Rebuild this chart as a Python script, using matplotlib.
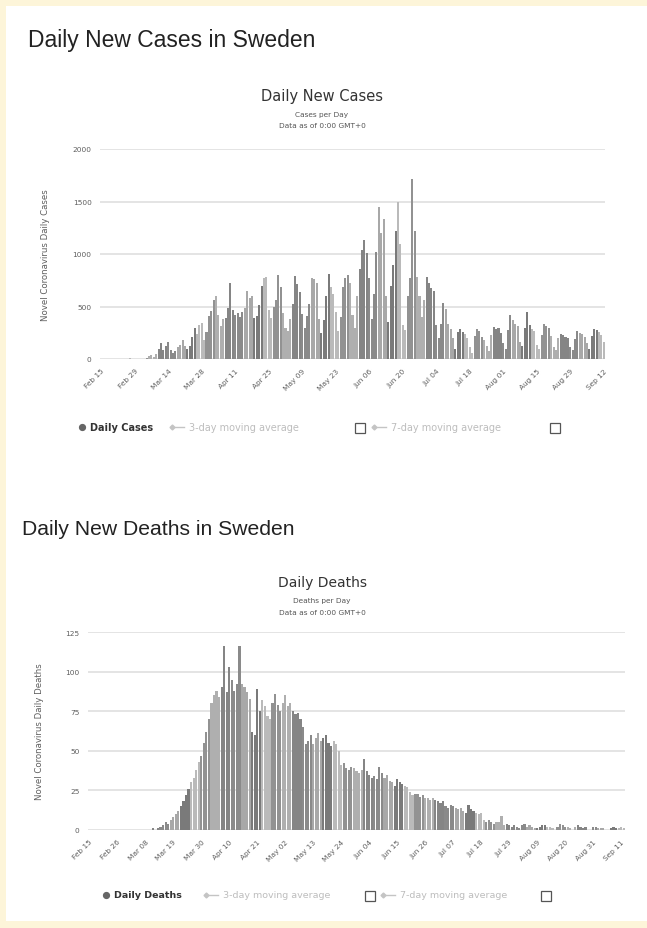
import matplotlib.pyplot as plt
import numpy as np
from matplotlib.patches import Rectangle
from matplotlib.lines import Line2D

W, H = 647, 929

# Daily cases, Feb 15 .. Sep 12 (one row per week, Sat..Fri)
cases = [
    0, 0, 0, 0, 0, 0, 0,
    0, 0, 0, 0, 1, 5, 1,
    0, 1, 1, 1, 0, 10, 25,
    40, 20, 45, 100, 155, 90, 120,
    160, 85, 60, 80, 115, 135, 180,
    125, 95, 125, 210, 300, 240, 320,
    345, 180, 260, 410, 460, 560, 600,
    420, 310, 380, 390, 490, 720, 470,
    420, 440, 400, 450, 490, 650, 580,
    600, 390, 410, 510, 700, 770, 780,
    470, 390, 500, 560, 800, 690, 440,
    300, 270, 380, 520, 790, 710, 640,
    430, 300, 410, 520, 770, 760, 720,
    380, 250, 370, 600, 810, 690, 620,
    450, 270, 400, 690, 770, 800, 720,
    420, 300, 600, 860, 1040, 1130, 1010,
    770, 380, 620, 1020, 1450, 1200, 1330,
    600, 350, 700, 900, 1220, 1500, 1100,
    320, 280, 600, 770, 1710, 1215, 780,
    600, 400, 560, 785, 720, 680, 650,
    320, 200, 330, 530, 480, 335, 290,
    200, 100, 255, 290, 260, 240, 200,
    110, 60, 220, 290, 270, 210, 180,
    120, 80, 230, 305, 290, 300, 250,
    150, 100, 280, 415, 370, 330, 310,
    160, 120, 300, 450, 320, 290, 270,
    130, 100, 230, 335, 310, 300, 220,
    110, 90, 200, 240, 230, 210, 200,
    110, 90, 190, 270, 250, 240, 210,
    150, 100, 220, 290, 280, 260, 230,
    160,
]

# Daily deaths, Feb 15 .. Sep 12
deaths = [
    0, 0, 0, 0, 0, 0, 0,
    0, 0, 0, 0, 0, 0, 0,
    0, 0, 0, 0, 0, 0, 0,
    0, 0, 0, 0, 1, 0, 1,
    2, 3, 5, 4, 6, 8, 10,
    12, 15, 18, 22, 26, 30, 33,
    38, 43, 47, 55, 62, 70, 80,
    85, 88, 84, 90, 116, 87, 103,
    95, 88, 92, 116, 92, 90, 87,
    83, 62, 60, 89, 75, 82, 78,
    72, 70, 80, 86, 79, 75, 80,
    85, 78, 80, 75, 73, 74, 70,
    65, 54, 56, 60, 54, 58, 61,
    56, 58, 60, 55, 53, 56, 54,
    50, 41, 42, 39, 38, 40, 39,
    37, 36, 38, 45, 37, 35, 33,
    34, 32, 40, 36, 33, 35, 31,
    30, 28, 32, 30, 29, 28, 27,
    24, 22, 23, 23, 21, 22, 20,
    20, 19, 20, 19, 18, 17, 18,
    15, 14, 16, 15, 14, 13, 14,
    12, 11, 16, 13, 12, 11, 10,
    11, 6, 5, 6, 5, 4, 5,
    5, 9, 3, 4, 3, 2, 3,
    2, 1, 3, 4, 2, 3, 2,
    1, 1, 2, 3, 3, 2, 2,
    1, 0, 2, 4, 3, 2, 2,
    1, 0, 2, 3, 2, 1, 2,
    0, 0, 2, 2, 1, 1, 1,
    0, 0, 1, 2, 1, 1, 2,
    1,
]

case_tick_labels = ["Feb 15", "Feb 29", "Mar 14", "Mar 28", "Apr 11", "Apr 25",
                    "May 09", "May 23", "Jun 06", "Jun 20", "Jul 04", "Jul 18",
                    "Aug 01", "Aug 15", "Aug 29", "Sep 12"]
death_tick_labels = ["Feb 15", "Feb 26", "Mar 08", "Mar 19", "Mar 30", "Apr 10",
                     "Apr 21", "May 02", "May 13", "May 24", "Jun 04", "Jun 15",
                     "Jun 26", "Jul 07", "Jul 18", "Jul 29", "Aug 09", "Aug 20",
                     "Aug 31", "Sep 11"]
case_yticks = [0, 500, 1000, 1500, 2000]
death_yticks = [0, 25, 50, 75, 100, 125]

HEAD_FONT = "Liberation Sans"   # page headings
CHART_FONT = "DejaVu Sans"      # chart texts (wide, Lucida-like)
SHADES = ["#8a8a8a", "#a8a8a8", "#7a7a7a", "#bababa", "#929292", "#afafaf", "#858585"]
TXT_GRAY = "#5e5e5e"


def fx(x):
    return x / W


def fy(y):
    return 1 - y / H


def text(x, y, s, **kw):
    kw.setdefault("family", CHART_FONT)
    fig.text(fx(x), fy(y), s, **kw)


def bar_panel(rect, values, yticks, tick_labels, step, ylabel, ylabel_x):
    left, top, right, bottom = rect
    ax = fig.add_axes([fx(left), fy(bottom), fx(right - left), (bottom - top) / H])
    x = np.arange(len(values))
    colors = [SHADES[(i // 4) % len(SHADES)] for i in x]
    ax.bar(x, values, width=0.85, color=colors, linewidth=0, zorder=2)
    ax.set_xlim(-0.5, len(values) - 0.5)
    ax.set_ylim(0, yticks[-1])
    ax.set_yticks(yticks)
    ax.set_yticklabels([str(v) for v in yticks], family=CHART_FONT, fontsize=5.3,
                       color=TXT_GRAY)
    ax.set_xticks(np.arange(len(tick_labels)) * step)
    ax.set_xticklabels(tick_labels, family=CHART_FONT, fontsize=5.3, color=TXT_GRAY,
                       rotation=45, ha="right", rotation_mode="anchor")
    ax.tick_params(length=0, pad=6)
    ax.grid(axis="y", color="#dcdcdc", linewidth=1.1, zorder=0)
    for sp in ax.spines.values():
        sp.set_visible(False)
    ax.set_facecolor("none")
    text(ylabel_x, (top + bottom) / 2, ylabel, fontsize=6.2, color=TXT_GRAY,
         rotation=90, ha="center", va="center")
    return ax


def legend_row(y, label, x0, boxes, avgs, size):
    fig.add_artist(Line2D([fx(x0)], [fy(y)], marker="o", markersize=4.2,
                          color="#666666", linestyle="none"))
    text(x0 + 8, y, label, fontsize=size, weight="bold", color="#333333", va="center")
    for bx in boxes:
        fig.add_artist(Rectangle((fx(bx), fy(y + 6)), fx(10), 10 / H, fill=False,
                                 edgecolor="#555555", linewidth=0.9))
    for lx, lbl in avgs:
        fig.add_artist(Line2D([fx(lx), fx(lx + 12)], [fy(y), fy(y)], color="#c4c4c4",
                              linewidth=1, marker="D", markersize=2.5, markevery=[0]))
        text(lx + 17, y, lbl, fontsize=size, color="#bdbdbd", va="center")


fig = plt.figure(figsize=(W / 100, H / 100), dpi=100, facecolor="#fdf5d9")
fig.add_artist(Rectangle((fx(6), 0.008), 1, fy(7) - 0.008, facecolor="white",
                         edgecolor="none", zorder=-1))

# ---- Cases ----
text(28, 40, "Daily New Cases in Sweden", family=HEAD_FONT, fontsize=16.5,
     color="#222222", va="center")
text(322, 97, "Daily New Cases", fontsize=10.5, color="#333333", ha="center", va="center")
text(322, 115, "Cases per Day", fontsize=5.3, color="#555555", ha="center", va="center")
text(322, 126, "Data as of 0:00 GMT+0", fontsize=5.3, color="#555555", ha="center",
     va="center")
bar_panel((100, 150, 605, 360), cases, case_yticks, case_tick_labels, 14,
          "Novel Coronavirus Daily Cases", 46)
legend_row(428, "Daily Cases", 82, (355, 550),
           ((172, "3-day moving average"), (374, "7-day moving average")), 7.0)

# ---- Deaths ----
text(22, 530, "Daily New Deaths in Sweden", family=HEAD_FONT, fontsize=15.2,
     color="#222222", va="center")
text(322, 583, "Daily Deaths", fontsize=10, color="#333333", ha="center", va="center")
text(322, 601, "Deaths per Day", fontsize=5.3, color="#555555", ha="center", va="center")
text(322, 613, "Data as of 0:00 GMT+0", fontsize=5.3, color="#555555", ha="center",
     va="center")
bar_panel((88, 633, 625, 831), deaths, death_yticks, death_tick_labels, 11,
          "Novel Coronavirus Daily Deaths", 40)
legend_row(896, "Daily Deaths", 106, (365, 541),
           ((206, "3-day moving average"), (383, "7-day moving average")), 6.8)

fig.savefig("out.png", dpi=100, facecolor=fig.get_facecolor())
